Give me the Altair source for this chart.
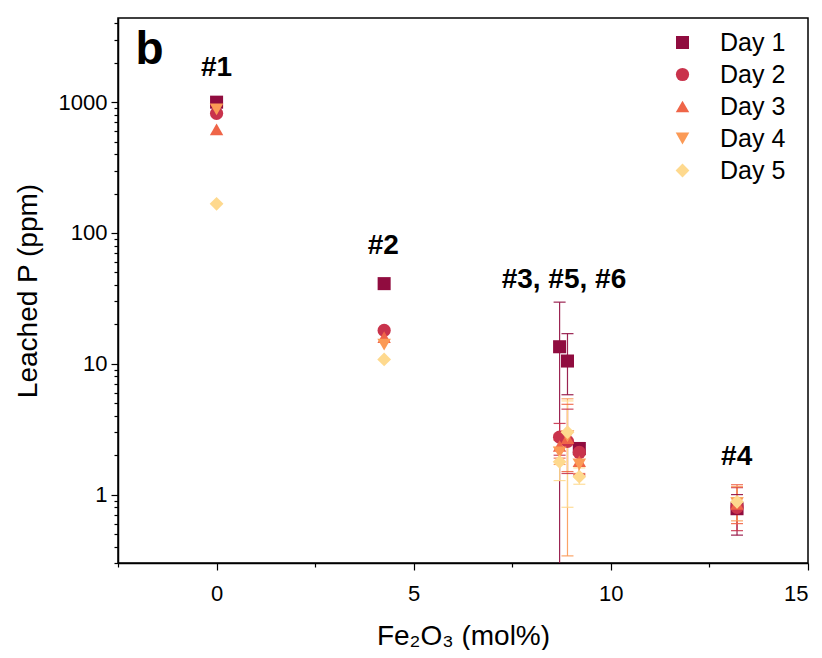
import altair as alt
import pandas as pd

days = ["Day 1", "Day 2", "Day 3", "Day 4", "Day 5"]
colors = ["#900C3F", "#C9334C", "#EF6548", "#FB9A56", "#FED98E"]
shapes = ["square", "circle", "triangle-up", "triangle-down", "diamond"]
sizes = [170, 190, 210, 210, 250]

# Fe2O3 content of the samples (#1, #2, #3, #5, #6, #4)
x_fe = [0, 4.25, 8.7, 8.9, 9.2, 13.2]

day1 = [1000, 41, 13.5, 10.5, 2.25, 0.78]
day2 = [820, 18, 2.75, 2.55, 2.1, 0.80]
day3 = [620, 16, 2.35, 2.7, 1.8, 0.85]
day4 = [880, 14, 2.1, 2.8, 1.7, 0.86]
day5 = [167, 10.8, 1.78, 3.0, 1.37, 0.88]

day1_hi = [None, None, 29.6, 17.0, 2.4, 1.0]
day1_lo = [None, None, 0.05, 5.8, 2.1, 0.49]
day2_hi = [None, None, 3.5, 4.5, 2.5, 1.13]
day2_lo = [None, None, 2.0, 1.45, 1.42, 0.53]
day3_hi = [None, None, 2.9, 4.9, 2.2, 1.19]
day3_lo = [None, None, 1.9, 1.5, 1.45, 0.6]
day4_hi = [None, None, 2.6, 5.4, 2.0, 1.15]
day4_lo = [None, None, 1.7, 0.34, 1.4, 0.63]
day5_hi = [None, None, 2.3, 5.2, 1.6, 0.95]
day5_lo = [None, None, 1.28, 0.8, 1.2, 0.8]

label_text = ["#1", "#2", "#3, #5, #6", "#4"]
label_x = [0, 4.23, 8.81, 13.19]
label_y = [1815, 79, 44, 1.94]

panel_text = ["b"]
panel_x = [-1.7]
panel_y = [2500]

x_major = [0, 5, 10, 15]
x_minor = [-2.5, 2.5, 7.5, 12.5]
y_major = [1, 10, 100, 1000]
y_minor = [0.3, 0.4, 0.5, 0.6, 0.7, 0.8, 0.9,
           2, 3, 4, 5, 6, 7, 8, 9,
           20, 30, 40, 50, 60, 70, 80, 90,
           200, 300, 400, 500, 600, 700, 800, 900,
           2000, 3000, 4000]

rows = []
for d, vals, hi, lo in zip(days,
                           [day1, day2, day3, day4, day5],
                           [day1_hi, day2_hi, day3_hi, day4_hi, day5_hi],
                           [day1_lo, day2_lo, day3_lo, day4_lo, day5_lo]):
    for x, v, h, l in zip(x_fe, vals, hi, lo):
        rows.append({"day": d, "x": x, "y": v, "hi": h, "lo": l})
df = pd.DataFrame(rows)
err = df.dropna(subset=["hi"]).reset_index(drop=True)

labels = pd.DataFrame({"t": label_text, "x": label_x, "y": label_y})
panel = pd.DataFrame({"t": panel_text, "x": panel_x, "y": panel_y})

FONT = "Liberation Sans"
xscale = alt.Scale(domain=[-2.5, 15], nice=False, zero=False)
yscale = alt.Scale(type="log", domain=[0.3, 4400], nice=False)
cscale = alt.Scale(domain=days, range=colors)
sscale = alt.Scale(domain=days, range=shapes)
zscale = alt.Scale(domain=days, range=sizes)

legend = alt.Legend(title=None, orient="none", legendX=552, legendY=12,
                    labelFontSize=25, labelFont=FONT, labelColor="black",
                    symbolSize=190, rowPadding=6, labelOffset=25,
                    symbolStrokeWidth=0, symbolOpacity=1)

color_enc = alt.Color("day:N", scale=cscale, legend=legend)

bars = alt.Chart(err).mark_rule(strokeWidth=1.2, clip=True, opacity=0.9).encode(
    x=alt.X("x:Q", scale=xscale, axis=None),
    y=alt.Y("lo:Q", scale=yscale, axis=None),
    y2="hi:Q",
    color=color_enc,
)
cap_hi = alt.Chart(err).mark_tick(orient="horizontal", size=12, thickness=1.2,
                                  clip=True, opacity=0.9).encode(
    x=alt.X("x:Q", scale=xscale, axis=None),
    y=alt.Y("hi:Q", scale=yscale, axis=None),
    color=color_enc,
)
cap_lo = alt.Chart(err).mark_tick(orient="horizontal", size=12, thickness=1.2,
                                  clip=True, opacity=0.9).encode(
    x=alt.X("x:Q", scale=xscale, axis=None),
    y=alt.Y("lo:Q", scale=yscale, axis=None),
    color=color_enc,
)

points = alt.Chart(df).mark_point(filled=True, opacity=1).encode(
    x=alt.X("x:Q", scale=xscale,
            axis=alt.Axis(values=x_major, title="Fe₂O₃ (mol%)", tickSize=7,
                          labelPadding=13, titlePadding=18, format="d")),
    y=alt.Y("y:Q", scale=yscale,
            axis=alt.Axis(values=y_major, title="Leached P (ppm)", tickSize=7,
                          labelPadding=4, titlePadding=16, format="d")),
    color=color_enc,
    shape=alt.Shape("day:N", scale=sscale, legend=legend),
    size=alt.Size("day:N", scale=zscale, legend=None),
    order=alt.Order("day:N"),
)

minor = alt.Chart(df).mark_point(opacity=0).encode(
    x=alt.X("x:Q", scale=xscale,
            axis=alt.Axis(values=x_minor, labels=False, domain=False, tickSize=4,
                          title=None, orient="bottom")),
    y=alt.Y("y:Q", scale=yscale,
            axis=alt.Axis(values=y_minor, labels=False, domain=False, tickSize=4,
                          title=None, orient="left")),
)

texts = alt.Chart(labels).mark_text(font=FONT, fontSize=28, fontWeight="bold",
                                    color="black").encode(
    x=alt.X("x:Q", scale=xscale, axis=None),
    y=alt.Y("y:Q", scale=yscale, axis=None),
    text="t:N",
)
ptext = alt.Chart(panel).mark_text(font=FONT, fontSize=46, fontWeight="bold",
                                   color="black").encode(
    x=alt.X("x:Q", scale=xscale, axis=None),
    y=alt.Y("y:Q", scale=yscale, axis=None),
    text="t:N",
)

chart = alt.layer(bars, cap_hi, cap_lo, points, minor, texts, ptext).resolve_axis(
    x="independent", y="independent"
).properties(
    width=690, height=545,
    autosize=alt.AutoSizeParams(type="none"),
    padding={"left": 110, "top": 10, "right": 6, "bottom": 87},
    background="white",
).configure_view(
    stroke="black", strokeWidth=1.5
).configure_axis(
    grid=False, domainColor="black", domainWidth=1.5, tickColor="black",
    tickWidth=1.2, labelColor="black", titleColor="black", labelFont=FONT,
    titleFont=FONT, labelFontSize=22, titleFontSize=28, titleFontWeight="normal",
)

chart.save("out.html", embed_options={"renderer": "svg", "actions": False})
